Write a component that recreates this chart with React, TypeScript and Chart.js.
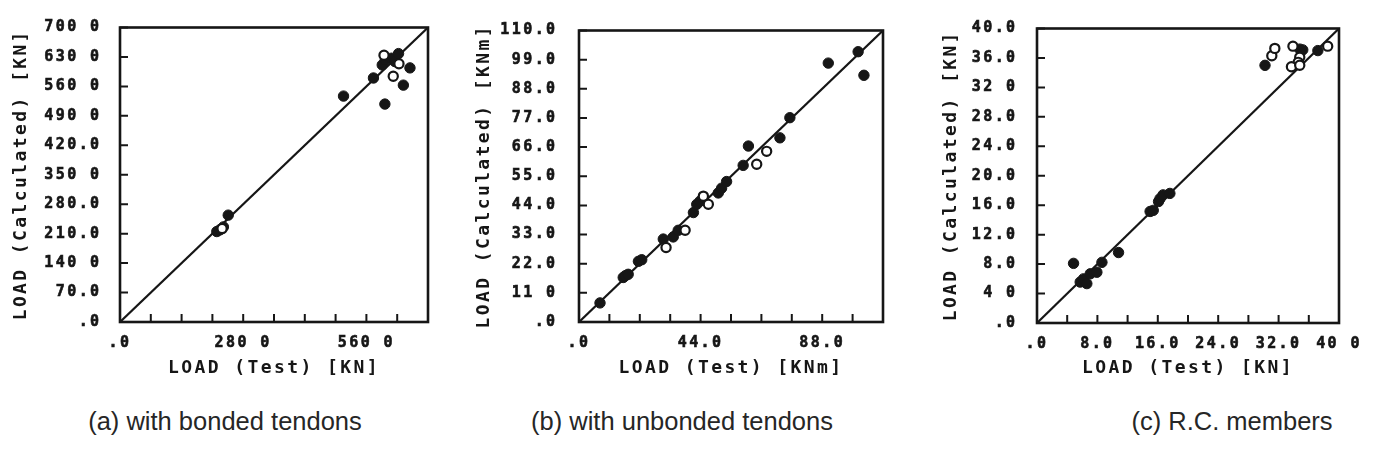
import React, { useEffect, useRef } from 'react';
import { Chart, registerables } from 'chart.js';

Chart.register(...registerables);

// ---------- Panel (a): with bonded tendons, LOAD [KN] ----------
const aFilledTest = [220, 227, 235, 246, 508, 576, 602, 596, 603, 617, 625, 633, 644, 659];
const aFilledCalc = [215, 219, 226, 254, 537, 580, 518, 611, 623, 627, 619, 638, 563, 604];
const aOpenTest = [232, 600, 621, 634];
const aOpenCalc = [222, 634, 584, 614];
const aXTickLabels = ['.0', '', '', '', '280 0', '', '', '', '560 0', '', ''];
const aYTickLabels = ['.0', '70.0', '140 0', '210.0', '280.0', '350 0', '420.0', '490 0', '560 0', '630 0', '700 0'];

// ---------- Panel (b): with unbonded tendons, LOAD [KNm] ----------
const bFilledTest = [7.6, 16.0, 16.8, 17.8, 21.5, 22.7, 30.5, 34.1, 35.9, 41.4, 42.6, 43.8, 50.4, 51.6, 53.4, 59.4, 61.3, 72.7, 76.3, 90.2, 101.0, 103.1];
const bFilledCalc = [7.2, 16.8, 17.5, 18.0, 22.9, 23.5, 31.3, 32.1, 34.6, 41.3, 44.4, 45.6, 48.7, 50.5, 53.0, 59.1, 66.4, 69.5, 77.1, 97.7, 102.0, 93.1];
const bOpenTest = [31.5, 38.4, 45.0, 46.8, 64.3, 67.9];
const bOpenCalc = [28.1, 34.6, 47.5, 44.4, 59.5, 64.4];
const bXTickLabels = ['.0', '', '', '', '44.0', '', '', '', '88.0', '', ''];
const bYTickLabels = ['.0', '11 0', '22.0', '33.0', '44.0', '55.0', '66.0', '77.0', '88.0', '99.0', '110.0'];

// ---------- Panel (c): R.C. members, LOAD [KN] ----------
const cFilledTest = [4.84, 5.72, 6.16, 6.6, 7.05, 7.93, 8.6, 10.8, 14.98, 15.4, 16.1, 16.3, 16.7, 17.6, 30.2, 34.8, 35.2, 37.2];
const cFilledCalc = [8.1, 5.56, 6.0, 5.35, 6.68, 6.9, 8.24, 9.57, 15.15, 15.3, 16.5, 16.9, 17.4, 17.6, 35.0, 37.2, 37.1, 37.0];
const cOpenTest = [31.1, 31.5, 33.9, 34.8, 34.6, 33.7, 34.8, 38.5];
const cOpenCalc = [36.3, 37.3, 37.6, 36.1, 35.4, 34.8, 35.0, 37.6];
const cXTickLabels = ['.0', '', '8.0', '', '16.0', '', '24.0', '', '32.0', '', '40 0'];
const cYTickLabels = ['.0', '4 0', '8.0', '12.0', '16.0', '20.0', '24.0', '28.0', '32 0', '36.0', '40.0'];

const captions = ['(a) with bonded tendons', '(b) with unbonded tendons', '(c) R.C. members'];

const INK = '#161616';
const MONO = "'DejaVu Sans Mono', 'Liberation Mono', monospace";

const frameTicks = {
  id: 'frameTicks',
  beforeDraw(chart: any) {
    (chart.ctx as any).letterSpacing = '2.4px';
  },
  afterDraw(chart: any) {
    const ctx = chart.ctx;
    ctx.save();
    (ctx as any).letterSpacing = '0px';
    const { left, right, top, bottom } = chart.chartArea;
    ctx.strokeStyle = INK;
    ctx.lineWidth = 2.6;
    ctx.strokeRect(left, top, right - left, bottom - top);
    ctx.lineWidth = 2;
    const xs = chart.scales.x;
    const ys = chart.scales.y;
    ctx.beginPath();
    xs.ticks.forEach((t: any) => {
      const p = xs.getPixelForValue(t.value);
      ctx.moveTo(p, bottom);
      ctx.lineTo(p, bottom - 8);
    });
    ys.ticks.forEach((t: any) => {
      const p = ys.getPixelForValue(t.value);
      ctx.moveTo(left, p);
      ctx.lineTo(left + 8, p);
    });
    ctx.stroke();
    ctx.restore();
  },
};

type PanelProps = {
  left: number;
  width: number;
  padTop: number;
  padRight: number;
  yWidth: number;
  xHeight: number;
  yTitlePad: number;
  yTickPad: number;
  max: number;
  step: number;
  xLabels: string[];
  yLabels: string[];
  xTitle: string;
  yTitle: string;
  filledX: number[];
  filledY: number[];
  openX: number[];
  openY: number[];
};

const H = 390;

function Panel(p: PanelProps) {
  const ref = useRef<HTMLCanvasElement | null>(null);
  useEffect(() => {
    if (!ref.current) return;
    const tickFont = { family: MONO, weight: 'bold' as const, size: 15 };
    const titleFont = { family: MONO, weight: 'bold' as const, size: 18 };
    const chart = new Chart(ref.current, {
      type: 'scatter',
      data: {
        datasets: [
          {
            data: p.openX.map((x, i) => ({ x, y: p.openY[i] })),
            backgroundColor: '#ffffff',
            borderColor: INK,
            borderWidth: 2.2,
            pointRadius: 4.6,
          },
          {
            data: p.filledX.map((x, i) => ({ x, y: p.filledY[i] })),
            backgroundColor: INK,
            borderColor: INK,
            borderWidth: 1,
            pointRadius: 5.2,
          },
          {
            data: [
              { x: 0, y: 0 },
              { x: p.max, y: p.max },
            ],
            showLine: true,
            borderColor: INK,
            borderWidth: 2.2,
            pointRadius: 0,
          } as any,
        ],
      },
      options: {
        responsive: false,
        animation: false,
        events: [],
        layout: { padding: { top: p.padTop, right: p.padRight, left: 0, bottom: 0 } },
        plugins: { legend: { display: false }, tooltip: { enabled: false } },
        scales: {
          x: {
            type: 'linear',
            position: 'bottom',
            min: 0,
            max: p.max,
            grid: { display: false, drawTicks: false },
            border: { display: false },
            ticks: {
              stepSize: p.step,
              autoSkip: false,
              maxRotation: 0,
              minRotation: 0,
              padding: 12,
              color: INK,
              textStrokeColor: INK,
              textStrokeWidth: 0.6,
              font: tickFont,
              callback: (_v: any, i: number) => p.xLabels[i] ?? '',
            },
            title: { display: true, text: p.xTitle, color: INK, font: titleFont, padding: { top: 0, bottom: 11 } },
            afterFit: (s: any) => {
              s.height = p.xHeight;
            },
          },
          y: {
            type: 'linear',
            position: 'left',
            min: 0,
            max: p.max,
            grid: { display: false, drawTicks: false },
            border: { display: false },
            ticks: {
              stepSize: p.step,
              autoSkip: false,
              padding: p.yTickPad,
              color: INK,
              textStrokeColor: INK,
              textStrokeWidth: 0.6,
              font: tickFont,
              callback: (_v: any, i: number) => p.yLabels[i] ?? '',
            },
            title: { display: true, text: p.yTitle, color: INK, font: titleFont, padding: { top: p.yTitlePad, bottom: 0 } },
            afterFit: (s: any) => {
              s.width = p.yWidth;
            },
          },
        },
      } as any,
      plugins: [frameTicks],
    });
    return () => chart.destroy();
  }, []);
  return (
    <canvas
      ref={ref}
      width={p.width}
      height={H}
      style={{ position: 'absolute', left: p.left, top: 0, width: p.width, height: H, display: 'block' }}
    />
  );
}

export default function App() {
  const capStyle = (cx: number): React.CSSProperties => ({
    position: 'absolute',
    left: cx - 200,
    width: 400,
    top: 404,
    textAlign: 'center',
    fontFamily: "'Liberation Sans', Arial, sans-serif",
    fontSize: 25.5,
    lineHeight: '34px',
    color: '#262626',
    whiteSpace: 'nowrap',
  });
  return (
    <div style={{ position: 'fixed', left: 0, top: 0, width: 1374, height: 458, background: '#ffffff', overflow: 'hidden' }}>
      <Panel
        left={0}
        width={450}
        padTop={22}
        padRight={22}
        yWidth={120}
        xHeight={H - 322}
        yTitlePad={11}
        yTickPad={18.5}
        max={700}
        step={70}
        xLabels={aXTickLabels}
        yLabels={aYTickLabels}
        xTitle="LOAD (Test) [KN]"
        yTitle="LOAD (Calculated) [KN]"
        filledX={aFilledTest}
        filledY={aFilledCalc}
        openX={aOpenTest}
        openY={aOpenCalc}
      />
      <Panel
        left={455}
        width={450}
        padTop={23}
        padRight={22}
        yWidth={124}
        xHeight={H - 322}
        yTitlePad={19}
        yTickPad={21.5}
        max={110}
        step={11}
        xLabels={bXTickLabels}
        yLabels={bYTickLabels}
        xTitle="LOAD (Test) [KNm]"
        yTitle="LOAD (Calculated) [KNm]"
        filledX={bFilledTest}
        filledY={bFilledCalc}
        openX={bOpenTest}
        openY={bOpenCalc}
      />
      <Panel
        left={905}
        width={469}
        padTop={24}
        padRight={35}
        yWidth={132}
        xHeight={H - 323}
        yTitlePad={36}
        yTickPad={19.5}
        max={40}
        step={4}
        xLabels={cXTickLabels}
        yLabels={cYTickLabels}
        xTitle="LOAD (Test) [KN]"
        yTitle="LOAD (Calculated) [KN]"
        filledX={cFilledTest}
        filledY={cFilledCalc}
        openX={cOpenTest}
        openY={cOpenCalc}
      />
      <div style={capStyle(225)}>{captions[0]}</div>
      <div style={capStyle(682)}>{captions[1]}</div>
      <div style={capStyle(1232)}>{captions[2]}</div>
    </div>
  );
}
